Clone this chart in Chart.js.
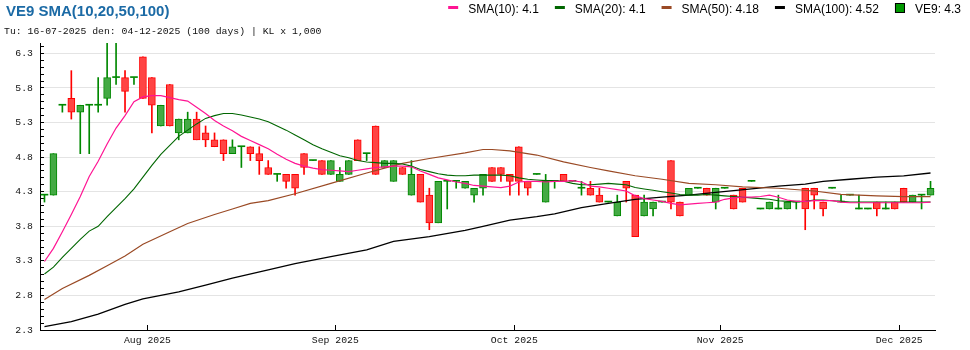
<!DOCTYPE html>
<html>
<head>
<meta charset="utf-8">
<title>VE9 SMA(10,20,50,100)</title>
<script src="https://cdn.jsdelivr.net/npm/chart.js@4.4.1/dist/chart.umd.min.js"></script>
<style>
  html, body { margin: 0; padding: 0; background: #fff; }
  #wrap { width: 970px; height: 350px; }
</style>
</head>
<body>
<div id="wrap"><canvas id="priceChart" width="970" height="350"></canvas></div>
<script>
// VE9 daily candles, 16-07-2025 .. 04-12-2025 (price in thousand VND)
const opens = [
  4.2, 4.2, 5.5, 5.6, 5.4, 5.5, 5.5, 5.6, 5.9, 5.9,
  5.9, 6.2, 5.9, 5.2, 5.8, 5.1, 5.1, 5.3, 5.1, 5.0,
  5.0, 4.8, 4.9, 4.9, 4.8, 4.6, 4.5, 4.5, 4.5, 4.8,
  4.7, 4.7, 4.5, 4.4, 4.5, 5.0, 4.8, 5.2, 4.6, 4.4,
  4.6, 4.2, 4.5, 4.2, 3.8, 4.4, 4.4, 4.3, 4.2, 4.3,
  4.6, 4.6, 4.5, 4.9, 4.4, 4.5, 4.1, 4.4, 4.5, 4.4,
  4.3, 4.3, 4.2, 4.1, 3.9, 4.4, 4.2, 3.9, 4.0, 4.1,
  4.7, 4.1, 4.2, 4.3, 4.3, 4.1, 4.3, 4.2, 4.3, 4.4,
  4.0, 4.0, 4.0, 4.0, 4.1, 4.3, 4.3, 4.1, 4.3, 4.1,
  4.2, 4.0, 4.0, 4.1, 4.0, 4.1, 4.3, 4.1, 4.2, 4.2
];
const highs = [
  4.2, 4.8, 5.5, 6.0, 5.5, 5.5, 5.9, 6.4, 6.4, 6.0,
  5.9, 6.2, 5.9, 5.5, 5.8, 5.3, 5.4, 5.4, 5.2, 5.1,
  5.0, 5.0, 4.9, 4.9, 4.9, 4.7, 4.5, 4.5, 4.5, 4.8,
  4.7, 4.7, 4.7, 4.6, 4.7, 5.0, 4.8, 5.2, 4.7, 4.7,
  4.6, 4.7, 4.5, 4.3, 4.4, 4.4, 4.4, 4.4, 4.3, 4.5,
  4.6, 4.6, 4.5, 4.9, 4.4, 4.5, 4.5, 4.4, 4.5, 4.4,
  4.4, 4.4, 4.3, 4.1, 4.2, 4.4, 4.2, 4.2, 4.1, 4.1,
  4.7, 4.1, 4.3, 4.3, 4.3, 4.3, 4.3, 4.2, 4.3, 4.4,
  4.0, 4.1, 4.2, 4.1, 4.1, 4.3, 4.3, 4.1, 4.3, 4.2,
  4.2, 4.2, 4.0, 4.1, 4.1, 4.1, 4.3, 4.2, 4.2, 4.4
];
const lows = [
  4.1, 4.2, 5.4, 5.3, 4.8, 4.8, 5.4, 5.5, 5.8, 5.4,
  5.8, 5.6, 5.1, 5.2, 5.2, 5.0, 5.1, 5.0, 4.9, 4.9,
  4.7, 4.8, 4.6, 4.7, 4.5, 4.5, 4.4, 4.3, 4.2, 4.5,
  4.7, 4.5, 4.5, 4.4, 4.5, 4.7, 4.7, 4.5, 4.6, 4.4,
  4.5, 4.2, 4.1, 3.7, 3.8, 4.0, 4.3, 4.3, 4.1, 4.2,
  4.4, 4.4, 4.2, 4.2, 4.2, 4.5, 4.1, 4.3, 4.4, 4.4,
  4.2, 4.2, 4.1, 4.1, 3.9, 4.1, 3.6, 3.9, 3.9, 4.1,
  4.0, 3.9, 4.2, 4.3, 4.2, 4.0, 4.3, 4.0, 4.1, 4.4,
  4.0, 4.0, 4.0, 4.0, 4.0, 3.7, 4.0, 3.9, 4.3, 4.1,
  4.2, 4.0, 4.0, 3.9, 4.0, 4.0, 4.1, 4.1, 4.0, 4.2
];
const closes = [
  4.2, 4.8, 5.5, 5.4, 5.5, 5.5, 5.5, 5.9, 5.9, 5.7,
  5.9, 5.6, 5.5, 5.5, 5.2, 5.3, 5.3, 5.0, 5.0, 4.9,
  4.8, 4.9, 4.9, 4.8, 4.7, 4.5, 4.5, 4.4, 4.3, 4.6,
  4.7, 4.5, 4.7, 4.5, 4.7, 4.7, 4.8, 4.5, 4.7, 4.7,
  4.5, 4.5, 4.1, 3.8, 4.4, 4.4, 4.4, 4.4, 4.3, 4.5,
  4.4, 4.5, 4.4, 4.4, 4.3, 4.5, 4.4, 4.4, 4.4, 4.4,
  4.3, 4.2, 4.1, 4.1, 4.1, 4.3, 3.6, 4.1, 4.1, 4.1,
  4.1, 3.9, 4.3, 4.3, 4.2, 4.3, 4.3, 4.0, 4.1, 4.4,
  4.0, 4.1, 4.0, 4.1, 4.1, 4.0, 4.2, 4.0, 4.3, 4.1,
  4.2, 4.0, 4.0, 4.0, 4.0, 4.0, 4.1, 4.2, 4.2, 4.3
];

// moving averages, one value per session
const sma10 = [
  3.24, 3.43, 3.67, 3.92, 4.18, 4.47, 4.69, 4.94, 5.17, 5.35,
  5.55, 5.62, 5.64, 5.64, 5.61, 5.58, 5.56, 5.47, 5.38, 5.28,
  5.20, 5.13, 5.05, 4.99, 4.93, 4.87, 4.79, 4.72, 4.66, 4.62,
  4.59, 4.57, 4.56, 4.55, 4.54, 4.56, 4.58, 4.60, 4.61, 4.62,
  4.62, 4.61, 4.55, 4.50, 4.45, 4.42, 4.39, 4.37, 4.34, 4.33,
  4.32, 4.31, 4.33, 4.39, 4.40, 4.40, 4.39, 4.40, 4.40, 4.41,
  4.39, 4.33, 4.32, 4.30, 4.28, 4.26, 4.19, 4.15, 4.13, 4.11,
  4.08, 4.06, 4.07, 4.08, 4.09, 4.10, 4.14, 4.16, 4.17, 4.17,
  4.18, 4.20, 4.17, 4.13, 4.11, 4.11, 4.12, 4.12, 4.12, 4.10,
  4.09, 4.09, 4.09, 4.09, 4.09, 4.09, 4.09, 4.09, 4.09, 4.10
];
const sma20 = [
  3.06, 3.16, 3.30, 3.43, 3.56, 3.68, 3.75, 3.89, 4.02, 4.15,
  4.29, 4.46, 4.63, 4.79, 4.92, 5.05, 5.14, 5.23, 5.31, 5.35,
  5.38, 5.38, 5.36, 5.33, 5.30, 5.26, 5.20, 5.14, 5.07, 5.00,
  4.93, 4.87, 4.82, 4.77, 4.74, 4.70, 4.68, 4.67, 4.66, 4.66,
  4.65, 4.62, 4.57, 4.54, 4.51, 4.49, 4.48, 4.48, 4.49, 4.49,
  4.49, 4.49, 4.48, 4.45, 4.43, 4.42, 4.41, 4.41, 4.40, 4.37,
  4.35, 4.35, 4.36, 4.37, 4.36, 4.35, 4.31, 4.29, 4.27, 4.25,
  4.23, 4.21, 4.20, 4.20, 4.21, 4.20, 4.19, 4.18, 4.17, 4.16,
  4.15, 4.14, 4.12, 4.11, 4.10, 4.11, 4.13, 4.13, 4.12, 4.11,
  4.10, 4.10, 4.10, 4.10, 4.10, 4.10, 4.10, 4.10, 4.10, 4.10
];
// slower averages as [session index, value]
const sma50 = [
  [0, 2.69], [2, 2.85], [5, 3.04], [7, 3.18], [9, 3.32], [11, 3.49],
  [14, 3.67], [16, 3.79], [19, 3.92], [21, 4.00], [23, 4.08], [25, 4.12],
  [28, 4.22], [32, 4.37], [36, 4.52], [38, 4.59], [40, 4.66], [43, 4.73],
  [47, 4.81], [49, 4.86], [50, 4.86], [52, 4.84], [55, 4.78], [58, 4.68],
  [61, 4.60], [63, 4.55], [66, 4.48], [69, 4.43], [72, 4.37], [75, 4.35],
  [78, 4.32], [82, 4.30], [86, 4.26], [89, 4.21], [93, 4.19], [96, 4.18],
  [99, 4.18]
];
const sma100 = [
  [0, 2.30], [3, 2.37], [6, 2.48], [9, 2.62], [11, 2.70], [15, 2.80],
  [18, 2.90], [21, 3.00], [25, 3.12], [28, 3.21], [32, 3.31], [36, 3.41],
  [39, 3.53], [43, 3.60], [47, 3.69], [49, 3.75], [52, 3.84], [55, 3.89],
  [57, 3.93], [60, 4.02], [63, 4.08], [66, 4.14], [69, 4.17], [72, 4.20],
  [75, 4.24], [79, 4.29], [82, 4.33], [85, 4.36], [87, 4.40], [90, 4.43],
  [93, 4.46], [96, 4.48], [99, 4.52]
];

// month starts sit between sessions
const xTickPos = [11.5, 32.5, 52.5, 75.5, 95.5];
const xTickLabels = ['Aug 2025', 'Sep 2025', 'Oct 2025', 'Nov 2025', 'Dec 2025'];
const yTickPos = [2.25, 2.75, 3.25, 3.75, 4.25, 4.75, 5.25, 5.75, 6.25];
const yTickLabels = ['2.3', '2.8', '3.3', '3.8', '4.3', '4.8', '5.3', '5.8', '6.3'];

const TITLE = 'VE9 SMA(10,20,50,100)';
const SUBTITLE = 'Tu: 16-07-2025 den: 04-12-2025 (100 days) | KL x 1,000';

const UP_FILL = '#44aa44', UP_LINE = '#008800';
const DOWN_FILL = '#ff4444', DOWN_LINE = '#ff0000';
const MONO = '"Liberation Mono", "DejaVu Sans Mono", monospace';
const SANS = '"Liberation Sans", Arial, sans-serif';

const isUp = i => closes[i] >= opens[i];
const isDoji = i => closes[i] === opens[i];

const days = opens.map((_, i) => i);
const wickData = days.map(i => ({ x: i, y: [lows[i], highs[i]] }));
const bodyData = days.map(i => ({ x: i, y: [opens[i], closes[i]] }));

const smaLine = (label, points, color, width) => ({
    type: 'line',
    label: label,
    data: points,
    borderColor: color,
    borderWidth: width,
    pointRadius: 0,
    tension: 0,
    fill: false,
    order: 0
});

const smaSets = [
    smaLine('SMA(10)', sma10.map((v, i) => ({ x: i, y: v })), '#ff1493', 1.2),
    smaLine('SMA(20)', sma20.map((v, i) => ({ x: i, y: v })), '#006600', 1.1),
    smaLine('SMA(50)', sma50.map(p => ({ x: p[0], y: p[1] })), '#9a4a25', 1.2),
    smaLine('SMA(100)', sma100.map(p => ({ x: p[0], y: p[1] })), '#000000', 1.3)
];

const legendItems = [
    { text: 'SMA(10)', value: sma10[sma10.length - 1], color: '#ff1493' },
    { text: 'SMA(20)', value: sma20[sma20.length - 1], color: '#006600' },
    { text: 'SMA(50)', value: sma50[sma50.length - 1][1], color: '#9a4a25' },
    { text: 'SMA(100)', value: sma100[sma100.length - 1][1], color: '#000000' },
    { text: 'VE9', value: closes[closes.length - 1], color: '#009900', box: true }
];

// title, date range and legend row above the plot
const headerPlugin = {
    id: 'header',
    afterDraw(chart) {
        const ctx = chart.ctx;
        ctx.save();
        ctx.textBaseline = 'alphabetic';
        ctx.textAlign = 'left';

        ctx.fillStyle = '#1b6aa5';
        ctx.font = 'bold 15px ' + SANS;
        ctx.fillText(TITLE, 6, 16);

        ctx.fillStyle = '#111';
        ctx.font = '9.8px ' + MONO;
        ctx.fillText(SUBTITLE, 4, 34);

        ctx.font = '12px ' + SANS;
        let x = 961;
        for (let k = legendItems.length - 1; k >= 0; k--) {
            const it = legendItems[k];
            const label = it.text + ': ' + (+it.value.toFixed(2));
            x -= ctx.measureText(label).width;
            ctx.fillStyle = '#000';
            ctx.fillText(label, x, 12.5);
            x -= 10 + 10;
            ctx.fillStyle = it.color;
            if (it.box) {
                ctx.fillRect(x, 3, 10, 10);
                ctx.strokeStyle = '#000';
                ctx.lineWidth = 1;
                ctx.strokeRect(x + 0.5, 3.5, 9, 9);
            } else {
                ctx.fillRect(x, 6, 10, 3);
            }
            x -= 16;
        }
        ctx.restore();
    }
};

const isMajor = v => yTickPos.some(t => Math.abs(t - v) < 1e-6);

new Chart(document.getElementById('priceChart'), {
    type: 'bar',
    data: {
        datasets: [
            ...smaSets,
            {
                label: 'VE9',
                data: bodyData,
                grouped: false,
                barThickness: 7,
                minBarLength: 1,
                borderSkipped: false,
                backgroundColor: ctx => isDoji(ctx.dataIndex) ? UP_LINE : (isUp(ctx.dataIndex) ? UP_FILL : DOWN_FILL),
                borderColor: ctx => isUp(ctx.dataIndex) ? UP_LINE : DOWN_LINE,
                borderWidth: ctx => isDoji(ctx.dataIndex) ? 0 : 1,
                order: 1
            },
            {
                label: 'range',
                data: wickData,
                grouped: false,
                barThickness: 1,
                backgroundColor: ctx => isUp(ctx.dataIndex) ? UP_LINE : DOWN_LINE,
                borderWidth: 0,
                order: 2
            }
        ]
    },
    options: {
        responsive: false,
        devicePixelRatio: 1,
        animation: false,
        events: [],
        layout: { padding: { top: 43, right: 35, left: 0, bottom: 0 } },
        plugins: {
            legend: { display: false },
            title: { display: false },
            tooltip: { enabled: false }
        },
        scales: {
            x: {
                type: 'linear',
                min: -0.5,
                max: 99.5,
                offset: false,
                afterBuildTicks: s => { s.ticks = xTickPos.map(v => ({ value: v })); },
                afterFit: s => { s.height = 20; },
                grid: {
                    offset: false,
                    drawOnChartArea: false,
                    drawTicks: true,
                    tickLength: -5,
                    tickColor: '#000'
                },
                border: { display: true, color: '#000', width: 1 },
                ticks: {
                    autoSkip: false,
                    maxRotation: 0,
                    padding: 10,
                    color: '#111',
                    font: { family: MONO, size: 9.8 },
                    callback: (v, i) => xTickLabels[i]
                }
            },
            y: {
                type: 'linear',
                min: 2.25,
                max: 6.4,
                afterBuildTicks: s => {
                    // a short mark every 0.1, labels every 0.5
                    const marks = [];
                    for (let k = 0; k <= 41; k++) marks.push({ value: Math.round((2.25 + k * 0.1) * 100) / 100 });
                    s.ticks = marks;
                },
                afterFit: s => { s.width = 40; },
                grid: {
                    color: ctx => isMajor(ctx.tick.value) ? '#e4e4e4' : 'rgba(0,0,0,0)',
                    lineWidth: 1,
                    drawTicks: true,
                    tickLength: -4,
                    tickColor: '#000'
                },
                border: { display: true, color: '#000', width: 1 },
                ticks: {
                    autoSkip: false,
                    padding: 11,
                    color: '#111',
                    font: { family: MONO, size: 9.8 },
                    callback: v => {
                        const k = yTickPos.findIndex(t => Math.abs(t - v) < 1e-6);
                        return k >= 0 ? yTickLabels[k] : '';
                    }
                }
            }
        }
    },
    plugins: [headerPlugin]
});
</script>
</body>
</html>
